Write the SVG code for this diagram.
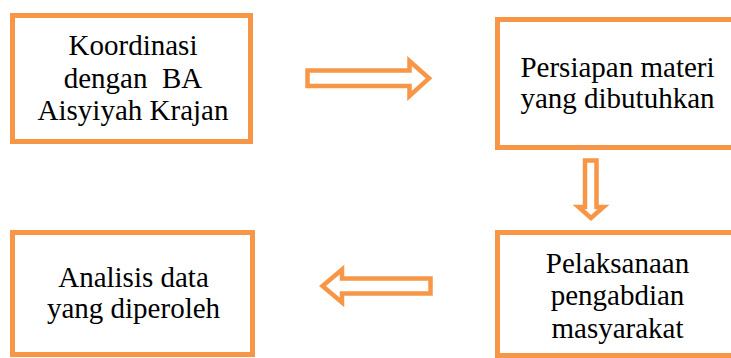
<svg xmlns="http://www.w3.org/2000/svg" width="731" height="358" viewBox="0 0 731 358">
  <style>
    .box { fill: #ffffff; stroke: #F79646; stroke-width: 5; }
    .arrow { fill: #ffffff; stroke: #F79646; stroke-width: 4.5; stroke-linejoin: miter; }
    .label { font-family: "Liberation Serif", "Times New Roman", serif; font-size: 29px; fill: #000000; text-anchor: middle; white-space: pre; }
  </style>
  <rect width="731" height="358" fill="#ffffff"/>

  <g id="koordinasi">
    <rect class="box" x="12.5" y="15.5" width="238" height="126"/>
    <text class="label" x="133" y="55">Koordinasi</text>
    <text class="label" x="133" y="88" xml:space="preserve">dengan  BA</text>
    <text class="label" x="133" y="120">Aisyiyah Krajan</text>
  </g>

  <g id="persiapan">
    <rect class="box" x="497.5" y="19.5" width="245" height="128"/>
    <text class="label" x="617.5" y="77">Persiapan materi</text>
    <text class="label" x="617.5" y="108">yang dibutuhkan</text>
  </g>

  <g id="pelaksanaan">
    <rect class="box" x="497.5" y="232.5" width="245" height="123"/>
    <text class="label" x="617.5" y="273">Pelaksanaan</text>
    <text class="label" x="617.5" y="305">pengabdian</text>
    <text class="label" x="617.5" y="338">masyarakat</text>
  </g>

  <g id="analisis">
    <rect class="box" x="12.5" y="232.5" width="240" height="122"/>
    <text class="label" x="133.5" y="287">Analisis data</text>
    <text class="label" x="133.5" y="318">yang diperoleh</text>
  </g>

  <g id="connectors">
    <!-- block arrow: koordinasi to persiapan -->
    <polygon class="arrow" points="307.5,70.5 409.5,70.5 409.5,61 429,78.3 409.5,96 409.5,86 307.5,86"/>
    <!-- block arrow: persiapan down to pelaksanaan -->
    <polygon class="arrow" points="585,160.5 596.5,160.5 596.5,207 603.5,207 591,218 578.5,207 585,207"/>
    <!-- block arrow: pelaksanaan back to analisis -->
    <polygon class="arrow" points="430.5,278.5 342,278.5 342,269.5 322.5,286 342,302.5 342,293.5 430.5,293.5"/>
  </g>
</svg>
